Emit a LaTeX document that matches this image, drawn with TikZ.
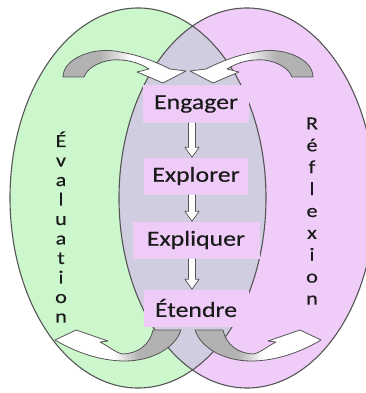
\documentclass[tikz,border=0pt]{standalone}
\usepackage{fontspec}
\setmainfont{Carlito}
\newfontfamily\widefont[FakeStretch=1.2, FakeBold=0.3]{Carlito}
\usetikzlibrary{calc}

\definecolor{evalgreen}{HTML}{CCF7CC}
\definecolor{reflpurple}{HTML}{F0CCF9}
\definecolor{overlapgray}{HTML}{D1CDE0}
\definecolor{stepfill}{HTML}{EFCBF7}
\definecolor{edgegray}{HTML}{555555}
\definecolor{ink}{HTML}{1A1A1A}
\colorlet{ribbongray}{gray!60}

% ribbon shadings: grey at the tail, white towards the head
\pgfdeclarehorizontalshading{tailleft}{100bp}{color(0bp)=(ribbongray); color(40bp)=(ribbongray); color(53bp)=(white); color(100bp)=(white)}
\pgfdeclarehorizontalshading{tailright}{100bp}{color(0bp)=(white); color(47bp)=(white); color(60bp)=(ribbongray); color(100bp)=(ribbongray)}
\pgfdeclarehorizontalshading{tailrightlow}{100bp}{color(0bp)=(white); color(48bp)=(white); color(58bp)=(ribbongray); color(100bp)=(ribbongray)}
\pgfdeclarehorizontalshading{tailleftlow}{100bp}{color(0bp)=(ribbongray); color(42bp)=(ribbongray); color(52bp)=(white); color(100bp)=(white)}

\tikzset{
  ovaledge/.style={draw=edgegray, line width=1.1pt},
  stepbox/.style={fill=stepfill, inner sep=0pt, minimum height=37pt,
    text=ink, font=\widefont\fontsize{21.5}{25}\selectfont},
  sideword/.style={align=center, text=ink},
  hollowarrow/.style={fill=white, draw=edgegray, line width=0.7pt, line join=miter},
  ribbon/.style={draw=edgegray, line width=0.8pt, line join=round},
}

% hollow block arrow from the bottom of one step to the top of the next
\newcommand\steparrow[2]{%
  \filldraw[hollowarrow]
    ($(#1.south)+(-7.5,0)$) -- ($(#2.north)+(-7.5,-10)$) -- ($(#2.north)+(-11,-10)$)
    -- ($(#2.north)+(-4,0)$) -- ($(#2.north)+(3,-10)$) -- ($(#2.north)+(-0.5,-10)$)
    -- ($(#1.south)+(-0.5,0)$);}

\begin{document}
\begin{tikzpicture}[x=1pt, y=-1pt]
\useasboundingbox (0,0) rectangle (366,393);

% the two ovals and their common part
\fill[evalgreen] (138,198) ellipse [x radius=128pt, y radius=190pt];
\fill[reflpurple] (247,198) ellipse [x radius=128pt, y radius=190pt];
\begin{scope}
  \clip (138,198) ellipse [x radius=128pt, y radius=190pt];
  \fill[overlapgray] (247,198) ellipse [x radius=128pt, y radius=190pt];
\end{scope}
\draw[ovaledge] (138,198) ellipse [x radius=128pt, y radius=190pt];
\draw[ovaledge] (247,198) ellipse [x radius=128pt, y radius=190pt];

% curved arrows at the top, feeding into the first step
\path[ribbon, shading=tailleft]
  (63,77) .. controls (63,58) and (95,46) .. (120,52)
  .. controls (140,55) and (158,63) .. (170,69)
  -- (186,71) -- (163,83) -- (137,72) -- (149,69)
  .. controls (138,62) and (125,59) .. (112,60)
  .. controls (97,62) and (87,69) .. (84,77) -- cycle;
\path[ribbon, shading=tailright]
  (313,77) .. controls (313,58) and (281,46) .. (256,52)
  .. controls (236,55) and (218,63) .. (206,69)
  -- (190,71) -- (213,83) -- (239,72) -- (227,69)
  .. controls (238,62) and (251,59) .. (264,60)
  .. controls (279,62) and (289,69) .. (292,77) -- cycle;

% curved arrows at the bottom, leaving the last step
\path[ribbon, shading=tailrightlow]
  (55,340) .. controls (75,352) and (100,361) .. (125,361)
  .. controls (152,361) and (175,348) .. (181,330)
  -- (153,330) .. controls (150,345) and (137,354) .. (122,354)
  .. controls (115,352) and (108,346) .. (100,342)
  -- (108,341) -- (76,330) -- cycle;
\path[ribbon, shading=tailleftlow]
  (321,340) .. controls (301,352) and (276,361) .. (251,361)
  .. controls (224,361) and (201,348) .. (195,330)
  -- (223,330) .. controls (226,345) and (239,354) .. (254,354)
  .. controls (261,352) and (268,346) .. (276,342)
  -- (268,341) -- (300,330) -- cycle;

% the four steps
\node[stepbox, minimum width=106pt] (engager)   at (196,104) {Engager};
\node[stepbox, minimum width=104pt] (explorer)  at (196,176) {Explorer};
\node[stepbox, minimum width=127pt] (expliquer) at (196,240) {Expliquer};
\node[stepbox, minimum width=105pt] (etendre)   at (196,308) {Étendre};

\steparrow{engager}{explorer}
\steparrow{explorer}{expliquer}
\steparrow{expliquer}{etendre}

% side labels written top to bottom
\node[sideword, font=\widefont\fontsize{18.5}{19.5}\selectfont] (evaluation) at (61,227)
  {É\\v\\a\\l\\u\\a\\t\\i\\o\\n};
\node[sideword, font=\widefont\fontsize{18.5}{21.9}\selectfont] (reflexion) at (312,211)
  {R\\é\\f\\l\\e\\x\\i\\o\\n};
\end{tikzpicture}
\end{document}
